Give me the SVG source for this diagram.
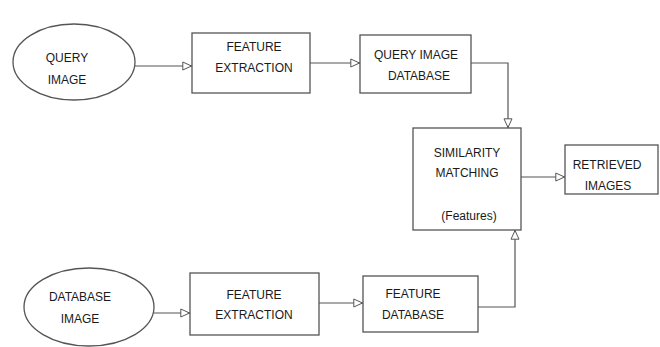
<svg xmlns="http://www.w3.org/2000/svg" width="660" height="347" viewBox="0 0 660 347">
<style>
.n{fill:#fff;stroke:#555;stroke-width:1.3}
.t{font-family:"Liberation Sans",Arial,sans-serif;font-size:12px;fill:#1a1a1a;text-anchor:middle;dominant-baseline:central}
.c{fill:none;stroke:#555;stroke-width:1.2}
</style>
<defs>
<marker id="a" viewBox="0 0 10 10" refX="10" refY="5" markerWidth="10" markerHeight="10" markerUnits="userSpaceOnUse" orient="auto">
<path d="M0.8,1 L9.5,5 L0.8,9 Z" fill="#fff" stroke="#555" stroke-width="1"/>
</marker>
</defs>
<rect width="660" height="347" fill="#fff"/>
<g id="connectors">
<path class="c" d="M135,66 H192" marker-end="url(#a)"/>
<path class="c" d="M310,63 H360" marker-end="url(#a)"/>
<path class="c" d="M471,63 H508 V128" marker-end="url(#a)"/>
<path class="c" d="M521,177 H565" marker-end="url(#a)"/>
<path class="c" d="M154,313 H190" marker-end="url(#a)"/>
<path class="c" d="M319,303 H363" marker-end="url(#a)"/>
<path class="c" d="M478,307 H515 V230" marker-end="url(#a)"/>
</g>
<g id="query-image">
<ellipse class="n" cx="74" cy="62" rx="61" ry="38"/>
<text class="t" x="67" y="58">QUERY</text>
<text class="t" x="67" y="80">IMAGE</text>
</g>
<g id="feature-extraction-1">
<rect class="n" x="192" y="33" width="118" height="60"/>
<text class="t" x="254" y="47">FEATURE</text>
<text class="t" x="254" y="68">EXTRACTION</text>
</g>
<g id="query-image-database">
<rect class="n" x="360" y="35" width="111" height="58"/>
<text class="t" x="416" y="55">QUERY IMAGE</text>
<text class="t" x="419" y="76">DATABASE</text>
</g>
<g id="similarity-matching">
<rect class="n" x="413" y="128" width="108" height="102"/>
<text class="t" x="467" y="153">SIMILARITY</text>
<text class="t" x="467" y="173">MATCHING</text>
<text class="t" x="469" y="216">(Features)</text>
</g>
<g id="retrieved-images">
<rect class="n" x="565" y="145" width="93" height="49"/>
<text class="t" x="607" y="165">RETRIEVED</text>
<text class="t" x="608" y="186">IMAGES</text>
</g>
<g id="database-image">
<ellipse class="n" cx="89" cy="307" rx="65" ry="39"/>
<text class="t" x="80" y="297">DATABASE</text>
<text class="t" x="80" y="319">IMAGE</text>
</g>
<g id="feature-extraction-2">
<rect class="n" x="190" y="273" width="129" height="62"/>
<text class="t" x="254" y="295">FEATURE</text>
<text class="t" x="254" y="315">EXTRACTION</text>
</g>
<g id="feature-database">
<rect class="n" x="363" y="276" width="115" height="56"/>
<text class="t" x="413" y="294">FEATURE</text>
<text class="t" x="413" y="315">DATABASE</text>
</g>
</svg>
